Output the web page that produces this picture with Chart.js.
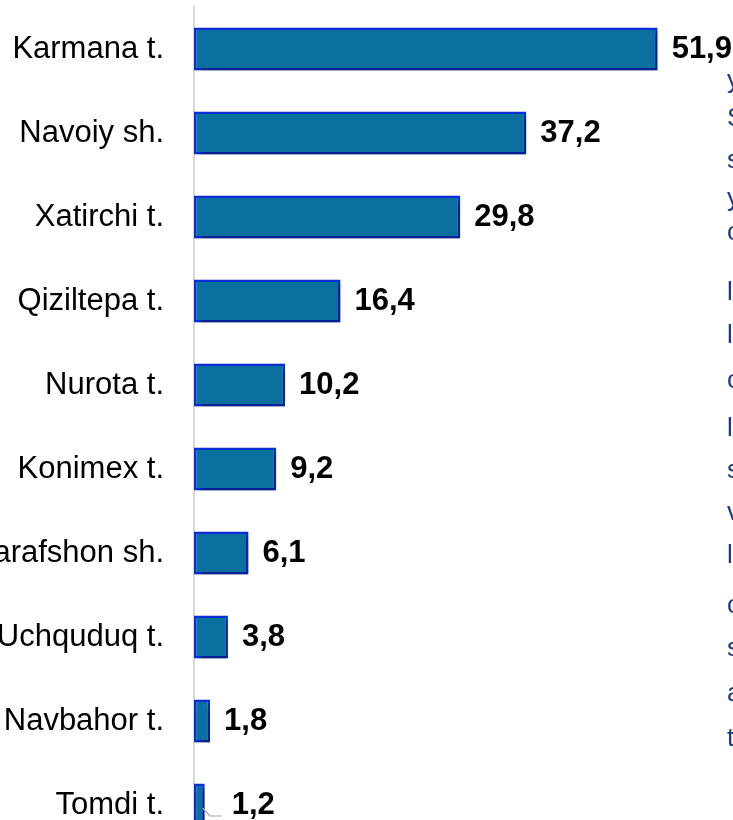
<!DOCTYPE html>
<html>
<head>
<meta charset="utf-8">
<script src="https://cdn.jsdelivr.net/npm/chart.js@4/dist/chart.umd.min.js"></script>
<style>
  html, body { margin: 0; padding: 0; background: #fff; overflow: hidden; width: 733px; height: 820px; }
  #wrap { position: absolute; left: 0; top: 0; width: 733px; height: 860px; }
  #side { position: absolute; left: 727px; top: 0; width: 40px; height: 820px; font-family: "Liberation Sans", Arial, sans-serif; font-size: 26px; color: #1b3a86; }
  #side span { position: absolute; left: 0; line-height: 1; }
</style>
</head>
<body>
<div id="wrap"><canvas id="c" width="733" height="860"></canvas></div>
<div id="side"></div>
<script>
const categories = ["Karmana t.", "Navoiy sh.", "Xatirchi t.", "Qiziltepa t.", "Nurota t.", "Konimex t.", "Zarafshon sh.", "Uchquduq t.", "Navbahor t.", "Tomdi t."];
const values = [51.9, 37.2, 29.8, 16.4, 10.2, 9.2, 6.1, 3.8, 1.8, 1.2];
const valueLabels = ["51,9", "37,2", "29,8", "16,4", "10,2", "9,2", "6,1", "3,8", "1,8", "1,2"];
const sideLetters = ["y", "S", "s", "y", "c", "l", "l", "c", "l", "s", "v", "l", "c", "s", "a", "t"];
const sideTops = [66, 104, 146, 184, 218, 278, 321, 366, 414, 456, 498, 541, 591, 634, 679, 724];

const side = document.getElementById('side');
sideLetters.forEach((ch, i) => {
  const s = document.createElement('span');
  s.textContent = ch;
  s.style.top = sideTops[i] + 'px';
  side.appendChild(s);
});

const shadowPlugin = {
  id: 'shadow',
  beforeDatasetsDraw(chart) {
    const ctx = chart.ctx;
    ctx.save();
    ctx.shadowColor = 'rgba(0,0,0,0.38)';
    ctx.shadowBlur = 5;
    ctx.shadowOffsetX = 3;
    ctx.shadowOffsetY = 4;
  },
  afterDatasetsDraw(chart) {
    chart.ctx.restore();
  }
};

const labelPlugin = {
  id: 'valueLabels',
  afterDatasetsDraw(chart) {
    const ctx = chart.ctx;
    const meta = chart.getDatasetMeta(0);
    ctx.save();
    ctx.font = 'bold 31px "Liberation Sans", Arial, sans-serif';
    ctx.fillStyle = '#000';
    ctx.textBaseline = 'middle';
    ctx.textAlign = 'left';
    meta.data.forEach((bar, i) => {
      const last = i === meta.data.length - 1;
      const off = last ? 27 : 14;
      if (last) {
        ctx.strokeStyle = '#a6a6a6';
        ctx.lineWidth = 1.2;
        ctx.beginPath();
        ctx.moveTo(bar.x - 2, bar.y + 3);
        ctx.lineTo(bar.x + 5, bar.y + 11);
        ctx.lineTo(bar.x + 17, bar.y + 11);
        ctx.stroke();
      }
      ctx.fillText(valueLabels[i], bar.x + off, bar.y);
    });
    ctx.restore();
  }
};

new Chart(document.getElementById('c'), {
  type: 'bar',
  data: {
    labels: categories,
    datasets: [{
      data: values,
      backgroundColor: '#0b6fa0',
      borderColor: '#0530d6',
      borderWidth: 2.5,
      borderSkipped: false,
      categoryPercentage: 1,
      barPercentage: 0.512
    }]
  },
  options: {
    indexAxis: 'y',
    responsive: false,
    animation: false,
    layout: { padding: { top: 7, bottom: 13, right: 3, left: 0 } },
    plugins: { legend: { display: false }, tooltip: { enabled: false } },
    scales: {
      x: { display: false, min: 0, max: 60 },
      y: {
        afterFit(scale) { scale.width = 194; scale.paddingTop = 0; scale.paddingBottom = 0; },
        grid: { display: false, drawTicks: false },
        border: { display: true, color: '#d9d9d9', width: 2 },
        ticks: {
          padding: 30,
          color: '#000',
          font: { family: '"Liberation Sans", Arial, sans-serif', size: 31 }
        }
      }
    }
  },
  plugins: [shadowPlugin, labelPlugin]
});
</script>
</body>
</html>
